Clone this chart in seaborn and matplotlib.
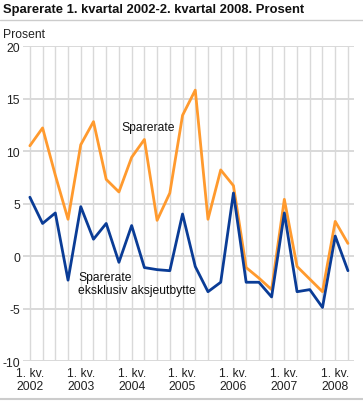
import numpy as np
import pandas as pd
import matplotlib
matplotlib.use("Agg")
import matplotlib.pyplot as plt
import seaborn as sns

# quarterly values, 1. kv. 2002 - 2. kv. 2008
quarters = [f"{q}. kv. {y}" for y in range(2002, 2009) for q in range(1, 5)][:26]
sparerate = [10.5, 12.2, 7.7, 3.5, 10.6, 12.8, 7.3, 6.1, 9.4, 11.1, 3.4, 6.0,
             13.4, 15.8, 3.5, 8.2, 6.7, -1.1, -2.1, -3.2, 5.4, -1.0, -2.2, -3.4,
             3.3, 1.2]
sparerate_eks = [5.6, 3.1, 4.1, -2.3, 4.7, 1.6, 3.1, -0.6, 2.9, -1.1, -1.3, -1.4,
                 4.0, -1.0, -3.4, -2.5, 6.0, -2.5, -2.5, -3.9, 4.1, -3.4, -3.2, -4.9,
                 1.9, -1.4]
tick_labels = ["1. kv.\n2002", "1. kv.\n2003", "1. kv.\n2004", "1. kv.\n2005",
               "1. kv.\n2006", "1. kv.\n2007", "1. kv.\n2008"]

df = pd.DataFrame({
    "idx": np.arange(len(quarters)),
    "Sparerate": sparerate,
    "Sparerate eksklusiv aksjeutbytte": sparerate_eks,
})
long = df.melt(id_vars="idx", var_name="serie", value_name="verdi")

sns.set_theme(style="white")
plt.rcParams["font.family"] = ["Liberation Sans", "DejaVu Sans"]
plt.rcParams["axes.unicode_minus"] = False

fig = plt.figure(figsize=(3.63, 4.02), dpi=100)
ax = fig.add_axes([0.063, 0.0995, 0.912, 0.7835])

sns.lineplot(data=long, x="idx", y="verdi", hue="serie",
             palette={"Sparerate": "#ff9a2e",
                      "Sparerate eksklusiv aksjeutbytte": "#0a3c96"},
             linewidth=2, legend=False, ax=ax, zorder=3)

ax.set_xlim(-0.55, len(quarters) - 0.53)
ax.set_ylim(-10, 20)
ax.set_yticks([-10, -5, 0, 5, 10, 15, 20])
ax.set_xticks(np.arange(len(quarters)), minor=True)
ax.set_xticks(np.arange(0, len(quarters), 4))
ax.set_xticklabels(tick_labels)
ax.grid(axis="y", color="#d9d9d9", linewidth=1.4)
ax.grid(axis="x", which="both", color="#d9d9d9", linewidth=1.0)
ax.set_axisbelow(True)
for s in ax.spines.values():
    s.set_visible(False)
ax.tick_params(axis="both", length=0, labelsize=8.7, colors="#222222", pad=2)
ax.tick_params(axis="x", pad=4)
ax.set_xlabel("")
ax.set_ylabel("")

ax.text(7.2, 12.25, "Sparerate", fontsize=8.7, va="center", ha="left", color="#111111")
ax.text(3.8, -2.6, "Sparerate\neksklusiv aksjeutbytte", fontsize=8.7, va="center",
        ha="left", color="#111111", linespacing=1.15)

fig.text(0.008, 0.975, "Sparerate 1. kvartal 2002-2. kvartal 2008. Prosent",
         fontsize=9.4, fontweight="bold", va="center", ha="left", color="#111111")
fig.add_artist(plt.Line2D([0, 1], [0.948, 0.948], color="#cccccc", linewidth=1,
                          transform=fig.transFigure))
fig.add_artist(plt.Line2D([0, 1], [0.005, 0.005], color="#cccccc", linewidth=1.5,
                          transform=fig.transFigure))
fig.text(0.008, 0.913, "Prosent", fontsize=8.7, va="center", ha="left", color="#222222")

fig.savefig("out.png", dpi=100)
